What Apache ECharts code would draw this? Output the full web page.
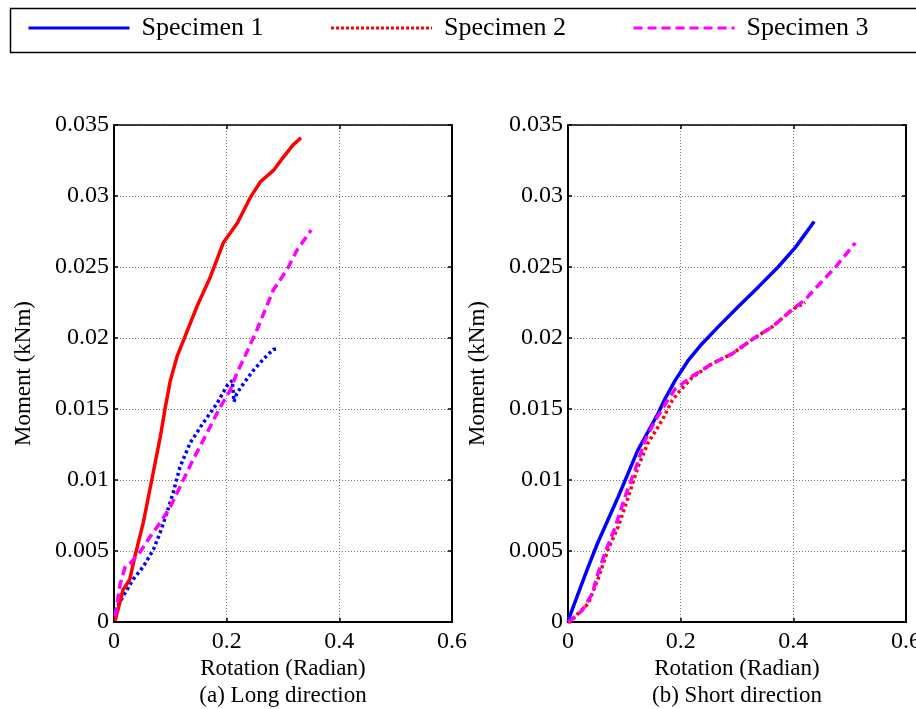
<!DOCTYPE html>
<html>
<head>
<meta charset="utf-8">
<script src="https://cdn.jsdelivr.net/npm/echarts@6/dist/echarts.min.js"></script>
<style>
html,body{margin:0;padding:0;background:#fff;}
#chart{width:916px;height:709px;}
</style>
</head>
<body>
<div id="chart"></div>
<script>
// ---- Data ----
const seriesNames = ['Specimen 1', 'Specimen 2', 'Specimen 3'];
const xTicks = ['0', '0.2', '0.4', '0.6'];
const yTicks = ['0', '0.005', '0.01', '0.015', '0.02', '0.025', '0.03', '0.035'];
const panelTitles = ['(a) Long direction', '(b) Short direction'];

// (a) Long direction
const longRot1 = [0.002,0.016,0.034,0.052,0.070,0.082,0.094,0.105,0.117,0.135,0.158,0.183,0.200,0.210,0.213,0.218,0.230,0.247,0.265,0.283,0.290];
const longMom1 = [0.0008,0.0018,0.0030,0.0039,0.0051,0.0063,0.0077,0.0091,0.0109,0.0126,0.0140,0.0154,0.0166,0.0170,0.0155,0.0161,0.0168,0.0177,0.0185,0.0192,0.0192];
const longRot2 = [0.002,0.016,0.028,0.037,0.052,0.067,0.082,0.091,0.100,0.112,0.126,0.147,0.171,0.194,0.219,0.242,0.260,0.283,0.300,0.318,0.332];
const longMom2 = [0.0001,0.00225,0.0030,0.0046,0.0070,0.0100,0.0130,0.0151,0.0170,0.0187,0.0201,0.0222,0.0243,0.0267,0.0281,0.0299,0.0310,0.0318,0.0327,0.0336,0.0341];
const longRot3 = [0.002,0.011,0.020,0.028,0.046,0.064,0.082,0.100,0.117,0.140,0.165,0.188,0.206,0.220,0.230,0.254,0.283,0.307,0.325,0.350];
const longMom3 = [0.0004,0.0027,0.0039,0.0041,0.0049,0.0060,0.0070,0.0081,0.0095,0.0114,0.0133,0.0151,0.0163,0.0177,0.0185,0.0206,0.0234,0.0248,0.0262,0.0276];

// (b) Short direction
const shortRot1 = [0.000,0.004,0.018,0.036,0.053,0.071,0.089,0.107,0.124,0.142,0.160,0.172,0.190,0.213,0.238,0.267,0.302,0.338,0.373,0.404,0.437];
const shortMom1 = [0.0000,0.0005,0.0020,0.0039,0.0056,0.0072,0.0088,0.0105,0.0121,0.0134,0.0147,0.0157,0.0170,0.0184,0.0196,0.0208,0.0222,0.0236,0.0250,0.0264,0.0282];
const shortRot2 = [0.000,0.004,0.018,0.036,0.053,0.071,0.089,0.107,0.124,0.142,0.167,0.185,0.199,0.220,0.256,0.292,0.327,0.363,0.398,0.421];
const shortMom2 = [0.0000,0.0000,0.0006,0.0013,0.0030,0.0051,0.0067,0.0088,0.0109,0.0126,0.0142,0.0156,0.0163,0.0172,0.0182,0.0189,0.0199,0.0208,0.0220,0.0225];
const shortRot3 = [0.000,0.004,0.025,0.043,0.053,0.066,0.084,0.101,0.119,0.137,0.155,0.172,0.190,0.220,0.256,0.292,0.327,0.363,0.398,0.421,0.444,0.475,0.510];
const shortMom3 = [0.0000,0.0001,0.0008,0.0020,0.0034,0.0049,0.0067,0.0088,0.0107,0.0128,0.0142,0.0153,0.0164,0.0173,0.0182,0.0189,0.0199,0.0208,0.0220,0.0227,0.0237,0.0250,0.0267];

// ---- Build ----
const zip = (xs, ys) => xs.map((x, i) => [x, ys[i]]);
const FONT = "'Liberation Serif', 'Times New Roman', serif";
const BLUE = '#0000ff', RED = '#ff0000', MAG = '#ff00ff';
const grids = [
  {left: 114, top: 125, width: 338, height: 497},
  {left: 568, top: 125, width: 338, height: 497}
];

const xAxes = [], yAxes = [];
grids.forEach((g, gi) => {
  xAxes.push({
    type: 'value', gridIndex: gi, position: 'bottom', min: 0, max: 0.6, interval: 0.2,
    name: 'Rotation (Radian)\n' + panelTitles[gi], nameLocation: 'middle', nameGap: 33,
    nameMoveOverlap: false,
    nameTextStyle: {fontFamily: FONT, fontSize: 23, color: '#000', lineHeight: 27, verticalAlign: 'top'},
    axisLine: {show: true, onZero: false, lineStyle: {color: '#000', width: 2}},
    axisTick: {show: true, inside: true, length: 4, lineStyle: {color: '#000', width: 1.5}},
    axisLabel: {fontFamily: FONT, fontSize: 24, color: '#000', margin: 8,
      formatter: v => xTicks[Math.round(v / 0.2)]},
    splitLine: {show: true, lineStyle: {color: '#777', type: [1, 2], width: 1}}
  });
  xAxes.push({
    type: 'value', gridIndex: gi, position: 'top', min: 0, max: 0.6, interval: 0.2,
    axisLine: {show: true, onZero: false, lineStyle: {color: '#000', width: 1.5}},
    axisTick: {show: true, inside: true, length: 4, lineStyle: {color: '#000', width: 1.5}},
    axisLabel: {show: false}, splitLine: {show: false}
  });
  yAxes.push({
    type: 'value', gridIndex: gi, position: 'left', min: 0, max: 0.035, interval: 0.005,
    name: 'Moment (kNm)', nameLocation: 'middle', nameGap: 79, nameRotate: 90,
    nameMoveOverlap: false,
    nameTextStyle: {fontFamily: FONT, fontSize: 23, color: '#000'},
    axisLine: {show: true, onZero: false, lineStyle: {color: '#000', width: 2}},
    axisTick: {show: true, inside: true, length: 4, lineStyle: {color: '#000', width: 1.5}},
    axisLabel: {fontFamily: FONT, fontSize: 24, color: '#000', margin: 5,
      formatter: v => yTicks[Math.round(v / 0.005)]},
    splitLine: {show: true, lineStyle: {color: '#777', type: [1, 2], width: 1}}
  });
  yAxes.push({
    type: 'value', gridIndex: gi, position: 'right', min: 0, max: 0.035, interval: 0.005,
    axisLine: {show: true, onZero: false, lineStyle: {color: '#000', width: 2}},
    axisTick: {show: true, inside: true, length: 4, lineStyle: {color: '#000', width: 1.5}},
    axisLabel: {show: false}, splitLine: {show: false}
  });
});

function line(name, gi, xs, ys, color, type, width) {
  return {
    name: name, type: 'line', xAxisIndex: gi * 2, yAxisIndex: gi * 2,
    data: zip(xs, ys), showSymbol: false, symbol: 'none', smooth: false,
    lineStyle: {color: color, type: type, width: width}, itemStyle: {color: color},
    z: 3
  };
}

const series = [
  line(seriesNames[0], 1, shortRot1, shortMom1, BLUE, 'solid', 3.5),
  line(seriesNames[1], 1, shortRot2, shortMom2, RED, [3, 3], 3.5),
  line(seriesNames[2], 1, shortRot3, shortMom3, MAG, [9, 5], 3.5),
  line(seriesNames[0], 0, longRot1, longMom1, BLUE, [3, 3], 3.5),
  line(seriesNames[1], 0, longRot2, longMom2, RED, 'solid', 3.5),
  line(seriesNames[2], 0, longRot3, longMom3, MAG, [9, 5], 3.5)
];

const legendStyles = [
  {color: BLUE, type: 'solid'},
  {color: RED, type: [3, 2]},
  {color: MAG, type: [9, 5]}
];

const chart = echarts.init(document.getElementById('chart'), null, {renderer: 'canvas'});
chart.setOption({
  animation: false,
  backgroundColor: '#fff',
  grid: grids.map(g => Object.assign({show: false, containLabel: false, outerBoundsMode: 'none'}, g)),
  xAxis: xAxes,
  yAxis: yAxes,
  legend: {
    left: 27, top: 15, padding: 0, orient: 'horizontal',
    itemWidth: 101, itemHeight: 14, itemGap: 66,
    selectedMode: false,
    data: seriesNames.map((n, i) => ({
      name: n,
      itemStyle: {color: legendStyles[i].color, opacity: 0},
      lineStyle: {color: legendStyles[i].color, type: legendStyles[i].type, width: 3}
    })),
    textStyle: {fontFamily: FONT, fontSize: 26, color: '#000', padding: [0, 0, 0, 7]}
  },
  graphic: [{
    type: 'rect', left: 8, top: 6,
    shape: {x: 0, y: 0, width: 940, height: 44},
    style: {fill: 'none', stroke: '#000', lineWidth: 1.5}, z: -1
  }],
  series: series
});
</script>
</body>
</html>
